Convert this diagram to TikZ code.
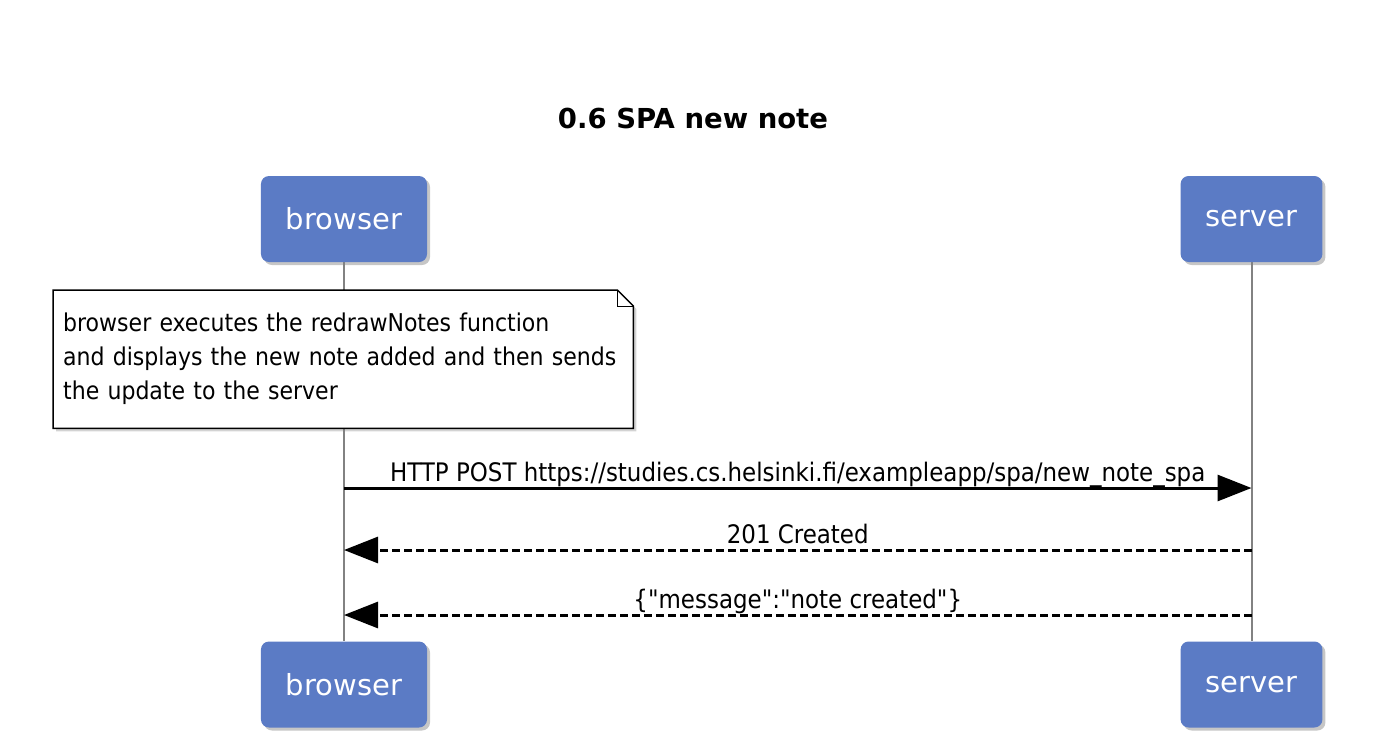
\documentclass[tikz,border=0pt]{standalone}
\usepackage{fontspec}
\setmainfont{DejaVu Sans}
\newfontfamily\condfont{DejaVu Sans Condensed}
\usepackage{tikz}
\usetikzlibrary{arrows.meta,shadows,backgrounds}
\definecolor{actorblue}{RGB}{91,123,197}
\definecolor{lifegray}{RGB}{130,130,130}

\begin{document}
\begin{tikzpicture}[x=1pt,y=-1pt,
            actor/.style = {shape=rectangle, rounded corners=8pt, fill=actorblue,
                            text=white, inner xsep=25pt, minimum height=86pt,
                            font=\fontsize{29}{34}\selectfont,
                            drop shadow={opacity=0.45, shadow xshift=3pt, shadow yshift=-3pt}},
            lifeline/.style = {draw=lifegray, line width=2pt},
            notebox/.style = {anchor=north west, align=left, text width=560pt,
                            inner xsep=10pt, minimum height=138pt,
                            font=\condfont\fontsize{24.5}{34}\selectfont},
            msg/.style = {line width=3pt, -{Triangle[length=34pt,width=26pt]}},
            reply/.style = {msg, dash pattern=on 8pt off 4pt},
            msglabel/.style = {anchor=base, yshift=7pt,
                            font=\condfont\fontsize{25.5}{30}\selectfont}]
            \useasboundingbox (0,0) rectangle (1394,750);
            % title
            \node[font=\bfseries\fontsize{27.5}{32}\selectfont] (title) at (693,118) {0.6 SPA new note};
            % participants
            \node[actor] (browserTop) at (344,219) {browser};
            \node[actor] (serverTop) at (1251.5,219) {server};
            \node[actor] (browserBot) at (344,684.5) {browser};
            \node[actor] (serverBot) at (1251.5,684.5) {server};
            % note
            \node[notebox] (note) at (53,290) {browser executes the redrawNotes function\\
                and displays the new note added and then sends\\
                the update to the server};
            \begin{scope}[on background layer]
            \draw[lifeline] (browserTop) -- (browserBot);
            \draw[lifeline] (serverTop) -- (serverBot);
            \fill[white, drop shadow={opacity=0.35, shadow xshift=3pt, shadow yshift=-3pt}]
                (note.north west) -- ([xshift=-16pt]note.north east) -- ([yshift=-16pt]note.north east)
                -- (note.south east) -- (note.south west) -- cycle;
            \draw[line width=1.5pt] (note.north west) -- ([xshift=-16pt]note.north east)
                -- ([yshift=-16pt]note.north east) -- (note.south east) -- (note.south west) -- cycle;
            \draw[line width=1pt] ([xshift=-16pt]note.north east) -- ([xshift=-16pt,yshift=-16pt]note.north east)
                -- ([yshift=-16pt]note.north east);
            \end{scope}
            % messages
            \coordinate (b1) at (browserTop.south |- 0,488);
            \coordinate (s1) at (serverTop.south |- 0,488);
            \coordinate (b2) at (browserTop.south |- 0,550);
            \coordinate (s2) at (serverTop.south |- 0,550);
            \coordinate (b3) at (browserTop.south |- 0,615);
            \coordinate (s3) at (serverTop.south |- 0,615);
            \draw[msg] (b1) -- node[msglabel] {HTTP POST https://studies.cs.helsinki.fi/exampleapp/spa/new\_note\_spa} (s1);
            \draw[reply] (s2) -- node[msglabel] {201 Created} (b2);
            \draw[reply] (s3) -- node[msglabel] {\{"message":"note created"\}} (b3);
        \end{tikzpicture}
\end{document}
